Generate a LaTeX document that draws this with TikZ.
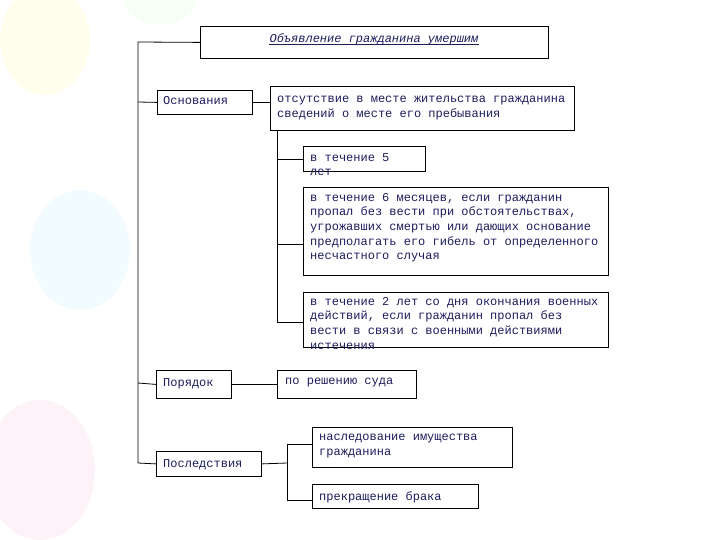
\documentclass[tikz,border=0pt]{standalone}
\usepackage{fontspec}
\newfontfamily\monof{Liberation Mono}
\begin{document}
\begin{tikzpicture}[x=1pt,y=-1pt,
  box/.style={draw=black,line width=0.8pt,fill=white,anchor=north west,inner sep=0pt},
  txt/.style={anchor=north west,inner sep=0pt,align=left,text=textblue,font=\monof\fontsize{12}{14.6}\selectfont},
  ln/.style={line width=0.8pt}]
\definecolor{textblue}{HTML}{1C1C5E}
\useasboundingbox (0,0) rectangle (720,540);
% faint background balloons
\fill[yellow!7] (45,40) ellipse (45 and 55);
\fill[cyan!5] (80,250) ellipse (50 and 60);
\fill[magenta!5] (40,470) ellipse (55 and 70);
\fill[green!4] (160,-10) ellipse (40 and 35);
% boxes
\node[box,minimum width=348,minimum height=32] (title) at (200,26) {};
\node[txt,anchor=center,font=\monof\itshape\fontsize{12}{14}\selectfont] (titletext) at (374,39) {Объявление гражданина умершим};
\draw[textblue,line width=0.6pt] ([yshift=1pt]titletext.south west) -- ([yshift=1pt]titletext.south east);
\node[box,minimum width=95,minimum height=24] (osn) at (157,90) {};
\node[txt] (osnt) at (163,96) {Основания};
\node[box,minimum width=304,minimum height=44] (ots) at (270,86) {};
\node[txt] (otst) at (277,96) {отсутствие в месте жительства гражданина\\сведений о месте его пребывания};
\node[box,minimum width=122,minimum height=25] (t5) at (303,146) {};
\node[txt] (t5t) at (310,153) {в течение 5\\лет};
\node[box,minimum width=305,minimum height=88] (t6) at (303,187) {};
\node[txt] (t6t) at (310,193) {в течение 6 месяцев, если гражданин\\пропал без вести при обстоятельствах,\\угрожавших смертью или дающих основание\\предполагать его гибель от определенного\\несчастного случая};
\node[box,minimum width=305,minimum height=55] (t2) at (303,292) {};
\node[txt] (t2t) at (310,297) {в течение 2 лет со дня окончания военных\\действий, если гражданин пропал без\\вести в связи с военными действиями\\истечения};
\node[box,minimum width=75,minimum height=28] (por) at (156,370) {};
\node[txt] (port) at (163,378) {Порядок};
\node[box,minimum width=139,minimum height=28] (sud) at (277,370) {};
\node[txt] (sudt) at (285,378) {по решению суда};
\node[box,minimum width=105,minimum height=25] (pos) at (156,451) {};
\node[txt] (post) at (163,459) {Последствия};
\node[box,minimum width=200,minimum height=40] (nas) at (312,427) {};
\node[txt] (nast) at (319,434) {наследование имущества\\гражданина};
\node[box,minimum width=166,minimum height=24] (bra) at (312,484) {};
\node[txt] (brat) at (319,491) {прекращение брака};
% connectors
\coordinate (top) at (138,42);
\coordinate (bot) at (138,463);
\draw[ln] (title.west) -- (top) -- (bot) -- (pos.west);
\draw[ln] (osn.west) -- (138,102);
\draw[ln] (por.west) -- (138,383);
\draw[ln] (osn.east) -- (osn.east -| ots.west);
\draw[ln] (por.east) -- (sud.west);
\coordinate (v1) at (277,130);
\draw[ln] (v1) -- (277,322) -- (t2.west |- 0,322);
\draw[ln] (277,159) -- (t5.west |- 0,159);
\draw[ln] (277,244) -- (t6.west |- 0,244);
\draw[ln] (pos.east) -- (287,463);
\draw[ln] (312,444) -- (287,444) -- (287,500) -- (312,500);
\end{tikzpicture}
\end{document}
